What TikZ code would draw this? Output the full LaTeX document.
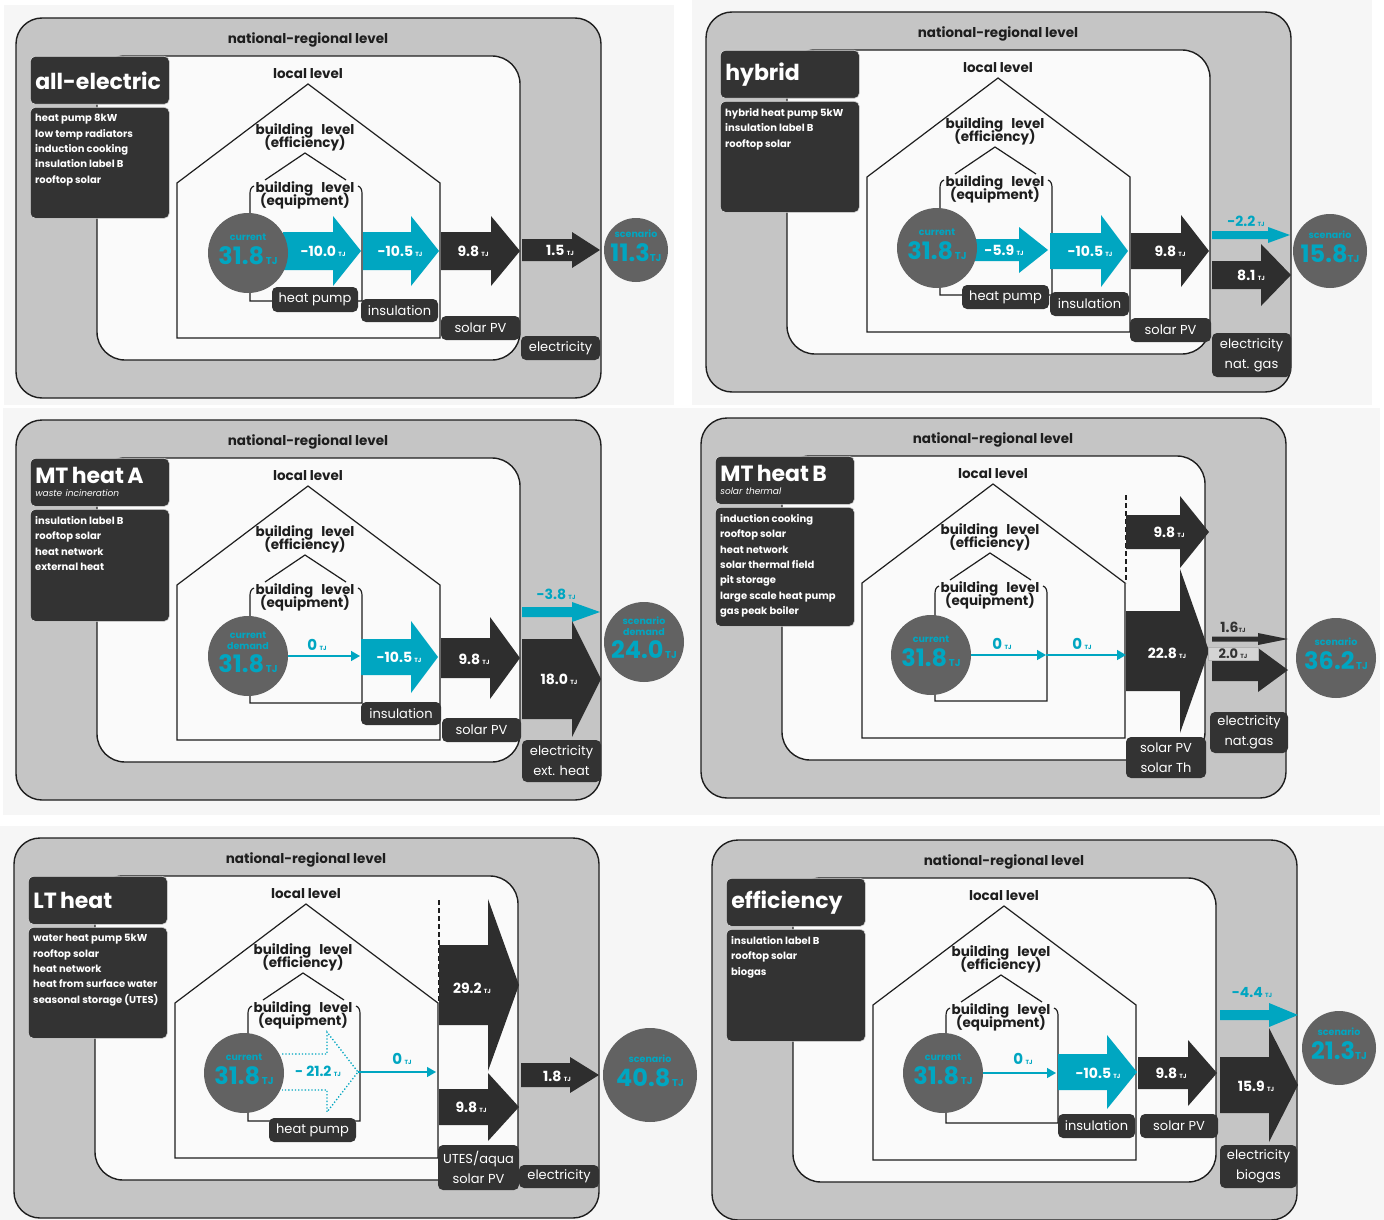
\documentclass[tikz,border=0pt]{standalone}
\usepackage{fontspec}
\setmainfont{Poppins}
\usetikzlibrary{arrows.meta}

\begin{document}
\begin{tikzpicture}[x=1pt, y=-1pt,
    natbox/.style={draw=lineDark, line width=1.4pt, fill=natGrey, rounded corners=26pt},
    localbox/.style={draw=lineDark, line width=1.4pt, fill=localWhite, rounded corners=28pt},
    wall/.style={draw=lineDark, line width=1.2pt},
    dashwall/.style={draw=lineDark, line width=1.5pt, dash pattern=on 5pt off 3pt},
    levelfont/.style={font=\bfseries\fontsize{13.5}{12}\selectfont, text=lineDark, inner sep=0pt, align=center},
    titlebox/.style={anchor=north west, fill=boxDark, draw=white!85!black, line width=0.6pt, rounded corners=5pt, minimum width=139pt, minimum height=48pt, text width=129pt, inner xsep=5pt, inner ysep=0pt, align=left, text=white},
    descbox/.style={anchor=north west, fill=boxDark, draw=white!85!black, line width=0.6pt, rounded corners=5pt, minimum width=139pt, inner sep=0pt},
    desctext/.style={anchor=north west, text=white, font=\bfseries\fontsize{10}{15.4}\selectfont, align=left, inner sep=0pt},
    lbl/.style={fill=boxDark, rounded corners=5pt, text=white, inner sep=0pt, align=center, font=\fontsize{13}{20}\selectfont},
    flowtext/.style={text=white, inner sep=0pt, font=\bfseries\fontsize{14}{14}\selectfont},
    cyantext/.style={text=flowCyan, inner sep=0pt, font=\bfseries\fontsize{14}{14}\selectfont},
    darktext/.style={text=boxDark, inner sep=0pt, font=\bfseries\fontsize{14}{14}\selectfont},
    demand/.style={circle, fill=circleGrey, inner sep=0pt},
    circtext/.style={text=flowCyan, inner sep=0pt, align=center, font=\bfseries\fontsize{10}{11}\selectfont, yshift=4pt},
    valbox/.style={fill=valGrey, draw=white!70!black, line width=0.5pt, inner sep=0pt, text=boxDark, font=\bfseries\fontsize{13}{13}\selectfont},
    thinflow/.style={draw=flowCyan, line width=1.4pt, -{Triangle[length=9pt, width=10pt]}},
    dotflow/.style={draw=flowCyan, line width=1.3pt, dotted},
  ]

    \definecolor{natGrey}{HTML}{C5C5C5}
    \definecolor{localWhite}{HTML}{FAFAFA}
    \definecolor{panelBg}{HTML}{F6F6F6}
    \definecolor{boxDark}{HTML}{333333}
    \definecolor{arrowDark}{HTML}{2E2E2E}
    \definecolor{circleGrey}{HTML}{626262}
    \definecolor{flowCyan}{HTML}{00A6C1}
    \definecolor{lineDark}{HTML}{1E1E1E}
    \definecolor{valGrey}{HTML}{D4D4D4}

    \def\tj{{\fontsize{6}{6}\selectfont TJ}}
    \def\circlabel#1{{\fontsize{9.5}{10}\selectfont #1}}
    \def\bignum#1{{\fontsize{24}{24}\selectfont #1}}
    \def\bigtj{{\fontsize{10}{10}\selectfont TJ}}
    \def\titlesize{\bfseries\fontsize{22}{24}\selectfont}

    % fat arrow: colour, x start, x head, x tip, y centre, half shaft, half head
    \def\fatarrow#1#2#3#4#5#6#7{%
      \fill[#1] (#2,#5-#6) -- (#3,#5-#6) -- (#3,#5-#7) -- (#4,#5)
        -- (#3,#5+#7) -- (#3,#5+#6) -- (#2,#5+#6) -- cycle;}

    % levels and house, shared by all panels
    \def\panelframe#1{%
      \draw[natbox] (16,18) rectangle (601,398);
      \node[levelfont] (#1nat) at (308,40) {national-regional level};
      \draw[localbox] (97,56) rectangle (520,360);
      \node[levelfont] (#1loc) at (308,74) {local level};
      \draw[wall] (177,338) -- (177,183) -- (308,84) -- (440,183) -- (440,338) -- cycle;
      \node[levelfont] (#1eff) at (305,137) {building\hspace{0.6em}level\\[-4pt](efficiency)};
      \draw[wall] (265,180) -- (305,153) -- (346,180);
      \node[levelfont] (#1equ) at (305,195) {building\hspace{0.6em}level\\[-4pt](equipment)};
      \draw[wall] (254,186) to[out=200, in=90] (250,194) -- (250,301) -- (362,301)
        -- (362,194) to[out=90, in=-20] (358,186);}

    \useasboundingbox (0,0) rectangle (1384,1220);

    % Panel backgrounds
    \fill[panelBg] (4,5) rectangle (674,405);
    \fill[panelBg] (692,0) rectangle (1372,405);
    \fill[panelBg] (3,408) rectangle (690,815);
    \fill[panelBg] (690,408) rectangle (1380,815);
    \fill[panelBg] (0,826) rectangle (690,1220);
    \fill[panelBg] (690,826) rectangle (1384,1220);

    % Panel 1: all-electric
    \begin{scope}
      \panelframe{p1}
      \node[titlebox] (p1title) at (30,56) {{\titlesize all-electric}};
      \node[descbox, minimum height=111pt] (p1desc) at (30,107) {};
      \node[desctext] (p1list) at ([xshift=5pt, yshift=-7pt]p1desc.north west)
        {heat pump 8kW\\low temp radiators\\induction cooking\\insulation label B\\rooftop solar};

      \fatarrow{flowCyan}{283}{333}{361}{251}{19}{35}
      \node[flowtext] (p1hpval) at (323,251) {-10.0\,\tj};
      \fatarrow{flowCyan}{363}{411}{439}{251}{19}{35}
      \node[flowtext] (p1insval) at (400,251) {-10.5\,\tj};
      \fatarrow{arrowDark}{441}{491}{520}{251}{19}{35}
      \node[flowtext] (p1pvval) at (473,251) {9.8\,\tj};
      \fatarrow{arrowDark}{522}{572}{600}{250}{11}{18}
      \node[flowtext] (p1elval) at (560,250) {1.5\,\tj};

      \node[lbl, minimum width=86pt, minimum height=25pt] (p1hp) at (315,299.5) {heat pump};
      \node[lbl, minimum width=77pt, minimum height=23pt] (p1ins) at (399.5,310.5) {insulation};
      \node[lbl, minimum width=79pt, minimum height=24pt] (p1pv) at (480.5,328) {solar PV};
      \node[lbl, minimum width=79pt, minimum height=24pt] (p1el) at (560.5,348) {electricity};

      \node[demand, minimum size=80pt] (p1cur) at (248,253) {};
      \node[circtext] (p1curtxt) at (p1cur) {\circlabel{current}\\[5pt]\bignum{31.8}\,\bigtj};
      \node[demand, minimum size=64pt] (p1scen) at (636,250) {};
      \node[circtext] (p1scentxt) at (p1scen) {\circlabel{scenario}\\[5pt]\bignum{11.3}\bigtj};
    \end{scope}

    % Panel 2: hybrid
    \begin{scope}[shift={(690,-6)}]
      \panelframe{p2}
      \node[titlebox] (p2title) at (30,56) {{\titlesize hybrid}};
      \node[descbox, minimum height=111pt] (p2desc) at (30,107) {};
      \node[desctext] (p2list) at ([xshift=5pt, yshift=-7pt]p2desc.north west)
        {hybrid heat pump 5kW\\insulation label B\\rooftop solar};

      \fatarrow{flowCyan}{284}{329}{358}{256}{11}{23}
      \node[flowtext] (p2hpval) at (314,256) {-5.9\,\tj};
      \fatarrow{flowCyan}{360}{411}{438}{257}{18}{36}
      \node[flowtext] (p2insval) at (400,257) {-10.5\,\tj};
      \fatarrow{arrowDark}{441}{491}{519}{257}{18}{36}
      \node[flowtext] (p2pvval) at (480,257) {9.8\,\tj};
      \fatarrow{flowCyan}{522}{578}{600}{241}{4}{8}
      \node[cyantext] (p2elval) at (556,227) {-2.2\,\tj};
      \fatarrow{arrowDark}{522}{571}{601}{281}{14}{31}
      \node[flowtext] (p2gasval) at (561,281) {8.1\,\tj};

      \node[lbl, minimum width=87pt, minimum height=24pt] (p2hp) at (315.5,303) {heat pump};
      \node[lbl, minimum width=79pt, minimum height=24pt] (p2ins) at (399.5,310) {insulation};
      \node[lbl, minimum width=81pt, minimum height=24pt] (p2pv) at (480.5,336) {solar PV};
      \node[lbl, minimum width=79pt, minimum height=44pt] (p2el) at (561.5,361) {electricity\\nat. gas};

      \node[demand, minimum size=80pt] (p2cur) at (247,254) {};
      \node[circtext] (p2curtxt) at (p2cur) {\circlabel{current}\\[5pt]\bignum{31.8}\,\bigtj};
      \node[demand, minimum size=74pt] (p2scen) at (640,257) {};
      \node[circtext] (p2scentxt) at (p2scen) {\circlabel{scenario}\\[5pt]\bignum{15.8}\bigtj};
    \end{scope}

    % Panel 3: MT heat A
    \begin{scope}[shift={(0,402)}]
      \panelframe{p3}
      \node[titlebox] (p3title) at (30,56)
        {{\titlesize MT heat A}\\[1pt]{\itshape\fontsize{9}{9}\selectfont waste incineration}};
      \node[descbox, minimum height=112pt] (p3desc) at (30,107) {};
      \node[desctext] (p3list) at ([xshift=5pt, yshift=-7pt]p3desc.north west)
        {insulation label B\\rooftop solar\\heat network\\external heat};

      \fatarrow{flowCyan}{361}{411}{438}{255}{18}{36}
      \node[flowtext] (p3insval) at (399,255) {-10.5\,\tj};
      \fatarrow{arrowDark}{441}{490}{520}{256}{20}{41}
      \node[flowtext] (p3pvval) at (474,257) {9.8\,\tj};
      \fatarrow{flowCyan}{522}{572}{600}{210}{5}{10}
      \node[cyantext] (p3elval) at (556,192) {-3.8\,\tj};
      \fatarrow{arrowDark}{522}{572}{601}{277}{40}{58}
      \node[flowtext] (p3extval) at (559,277) {18.0\,\tj};

      \node[lbl, minimum width=80pt, minimum height=23pt] (p3ins) at (401,311.5) {insulation};
      \node[lbl, minimum width=79pt, minimum height=24pt] (p3pv) at (481.5,328) {solar PV};
      \node[lbl, minimum width=79pt, minimum height=42pt] (p3el) at (561.5,359) {electricity\\ext. heat};

      \node[demand, minimum size=80pt] (p3cur) at (248,254) {};
      \node[circtext] (p3curtxt) at (p3cur)
        {\circlabel{current}\\\circlabel{demand}\\[4pt]\bignum{31.8}\,\bigtj};
      \coordinate (p3hpend) at (360,254);
      \draw[thinflow] (p3cur) -- (p3hpend);
      \node[cyantext] (p3hpval) at (317,243) {\fontsize{15}{15}\selectfont 0\,\tj};
      \node[demand, minimum size=80pt] (p3scen) at (644,240) {};
      \node[circtext] (p3scentxt) at (p3scen)
        {\circlabel{scenario}\\\circlabel{demand}\\[4pt]\bignum{24.0}\,\bigtj};
    \end{scope}

    % Panel 4: MT heat B
    \begin{scope}[shift={(685,400)}]
      \panelframe{p4}
      \node[titlebox] (p4title) at (30,56)
        {{\titlesize MT heat B}\\[1pt]{\itshape\fontsize{9}{9}\selectfont solar thermal}};
      \node[descbox, minimum height=119pt] (p4desc) at (30,107) {};
      \node[desctext] (p4list) at ([xshift=5pt, yshift=-7pt]p4desc.north west)
        {induction cooking\\rooftop solar\\heat network\\solar thermal field\\pit storage\\large scale heat pump\\gas peak boiler};

      \draw[dashwall] (441,95) -- (441,183);
      \fatarrow{arrowDark}{441}{495}{524}{132}{17}{36}
      \node[flowtext] (p4pvval) at (484,132) {9.8\,\tj};
      \fatarrow{arrowDark}{441}{495}{524}{251}{40}{82}
      \node[flowtext] (p4thval) at (482,253) {22.8\,\tj};
      \fatarrow{arrowDark}{527}{573}{603}{239}{2.5}{6}
      \node[darktext] (p4elval) at (548,227) {1.6\tj};
      \fatarrow{arrowDark}{527}{573}{603}{270}{11}{22}
      \node[valbox, minimum width=50pt, minimum height=13pt] (p4gasval) at (548,253.5) {2.0\,\tj};

      \node[lbl, minimum width=80pt, minimum height=41pt] (p4pv) at (481,357.5) {solar PV\\solar Th};
      \node[lbl, minimum width=78pt, minimum height=41pt] (p4el) at (564,332.5) {electricity\\nat.gas};

      \node[demand, minimum size=80pt] (p4cur) at (246,255) {};
      \node[circtext] (p4curtxt) at (p4cur) {\circlabel{current}\\[5pt]\bignum{31.8}\,\bigtj};
      \coordinate (p4hpend) at (361,255);
      \coordinate (p4insend) at (441,255);
      \draw[thinflow] (p4cur) -- (p4hpend);
      \draw[thinflow] (p4hpend) -- (p4insend);
      \node[cyantext] (p4hpval) at (317,244) {\fontsize{15}{15}\selectfont 0\,\tj};
      \node[cyantext] (p4insval) at (397,244) {\fontsize{15}{15}\selectfont 0\,\tj};
      \node[demand, minimum size=80pt] (p4scen) at (651,258) {};
      \node[circtext] (p4scentxt) at (p4scen) {\circlabel{scenario}\\[5pt]\bignum{36.2}\,\bigtj};
    \end{scope}

    % Panel 5: LT heat
    \begin{scope}[shift={(-2,820)}]
      \panelframe{p5}
      \node[titlebox] (p5title) at (30,56) {{\titlesize LT heat}};
      \node[descbox, minimum height=111pt] (p5desc) at (30,107) {};
      \node[desctext] (p5list) at ([xshift=5pt, yshift=-7pt]p5desc.north west)
        {water heat pump 5kW\\rooftop solar\\heat network\\heat from surface water\\seasonal storage (UTES)};

      \draw[dashwall] (441,80) -- (441,183);
      \fatarrow{arrowDark}{441}{490}{521}{165}{40}{86}
      \node[flowtext] (p5aquaval) at (474,168) {29.2\,\tj};
      \fatarrow{arrowDark}{441}{490}{521}{287}{18}{34}
      \node[flowtext] (p5pvval) at (473,287) {9.8\,\tj};
      \fatarrow{arrowDark}{523}{572}{601}{255}{12}{18}
      \node[flowtext] (p5elval) at (559,256) {1.8\,\tj};

      \node[lbl, minimum width=87pt, minimum height=24pt] (p5hp) at (314.5,310) {heat pump};
      \node[lbl, minimum width=81pt, minimum height=45pt] (p5pv) at (480.5,347.5) {UTES/aqua\\solar PV};
      \node[lbl, minimum width=80pt, minimum height=23pt] (p5el) at (561,356.5) {electricity};

      \draw[dotflow] (284,234) -- (329,234) -- (329,212) -- (360,252) -- (329,292) -- (329,270) -- (284,270);
      \node[demand, minimum size=80pt] (p5cur) at (246,253) {};
      \node[circtext] (p5curtxt) at (p5cur) {\circlabel{current}\\[5pt]\bignum{31.8}\,\bigtj};
      \node[cyantext] (p5hpval) at (320,251) {- 21.2\,\tj};
      \coordinate (p5hpend) at (360,252);
      \coordinate (p5pvin) at (438,252);
      \draw[thinflow] (p5hpend) -- (p5pvin);
      \node[cyantext] (p5aqval) at (404,239) {\fontsize{15}{15}\selectfont 0\,\tj};
      \node[demand, minimum size=94pt] (p5scen) at (652,255) {};
      \node[circtext] (p5scentxt) at (p5scen) {\circlabel{scenario}\\[5pt]\bignum{40.8}\,\bigtj};
    \end{scope}

    % Panel 6: efficiency
    \begin{scope}[shift={(696,822)}]
      \panelframe{p6}
      \node[titlebox] (p6title) at (30,56) {{\titlesize efficiency}};
      \node[descbox, minimum height=112pt] (p6desc) at (30,107) {};
      \node[desctext] (p6list) at ([xshift=5pt, yshift=-7pt]p6desc.north west)
        {insulation label B\\rooftop solar\\biogas};

      \fatarrow{flowCyan}{362}{411}{441}{250}{18}{37}
      \node[flowtext] (p6insval) at (402,251) {-10.5\,\tj};
      \fatarrow{arrowDark}{442}{492}{521}{251}{16}{33}
      \node[flowtext] (p6pvval) at (475,251) {9.8\,\tj};
      \fatarrow{flowCyan}{524}{573}{602}{193}{5}{12}
      \node[cyantext] (p6elval) at (556,171) {-4.4\,\tj};
      \fatarrow{arrowDark}{524}{573}{602}{263}{28}{57}
      \node[flowtext] (p6bioval) at (560,264) {15.9\,\tj};

      \node[lbl, minimum width=77pt, minimum height=24pt] (p6ins) at (400.5,304) {insulation};
      \node[lbl, minimum width=78pt, minimum height=24pt] (p6pv) at (483,304) {solar PV};
      \node[lbl, minimum width=77pt, minimum height=43pt] (p6el) at (562.5,344.5) {electricity\\biogas};

      \node[demand, minimum size=80pt] (p6cur) at (247,251) {};
      \node[circtext] (p6curtxt) at (p6cur) {\circlabel{current}\\[5pt]\bignum{31.8}\,\bigtj};
      \coordinate (p6hpend) at (360,251);
      \draw[thinflow] (p6cur) -- (p6hpend);
      \node[cyantext] (p6hpval) at (327,237) {\fontsize{15}{15}\selectfont 0\,\tj};
      \node[demand, minimum size=74pt] (p6scen) at (643,226) {};
      \node[circtext] (p6scentxt) at (p6scen) {\circlabel{scenario}\\[5pt]\bignum{21.3}\bigtj};
    \end{scope}

\end{tikzpicture}
\end{document}
